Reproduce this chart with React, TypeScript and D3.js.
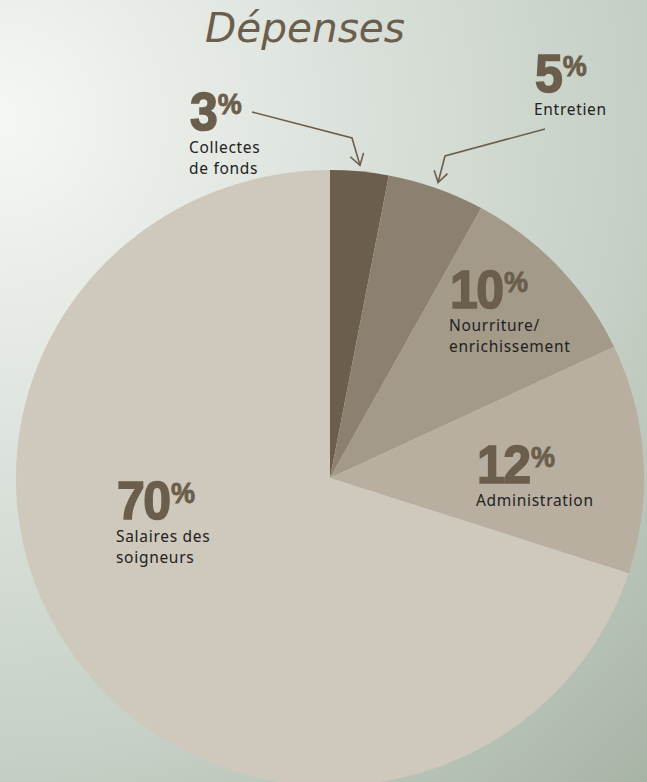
import React from "react";
import * as d3 from "d3";

const categories = ["Collectes de fonds", "Entretien", "Nourriture/ enrichissement", "Administration", "Salaires des soigneurs"];
const percents = [3, 5, 10, 12, 70];
const sliceColors = ["#6b5e4c", "#8c8170", "#a39a8a", "#b8afa1", "#cfc8bc"];
const labelLines = [["Collectes", "de fonds"], ["Entretien"], ["Nourriture/", "enrichissement"], ["Administration"], ["Salaires des", "soigneurs"]];
// label anchor (left x, baseline of the number)
const labelPos: [number, number][] = [[190, 130], [535, 92], [450, 308], [477, 483], [117, 519]];
// arrow callouts: [slice index, start point, elbow point]
const arrows: { idx: number; start: [number, number]; elbow: [number, number] }[] = [
  { idx: 0, start: [252, 112], elbow: [352, 138] },
  { idx: 1, start: [545, 129], elbow: [445, 156] },
];

const W = 647;
const H = 782;
const CX = 330;
const CY = 478;
const RX = 314;
const RY = 308;
const BROWN = "#6b5e4c";

export default function App() {
  const pie = d3.pie<number>().value((d) => d).sort(null)(percents);
  const arc = d3.arc<d3.PieArcDatum<number>>().innerRadius(0).outerRadius(RX);

  const arrowEls = arrows.map((a, i) => {
    const p = pie[a.idx];
    const mid = (p.startAngle + p.endAngle) / 2;
    const tip: [number, number] = [CX + (RX + 5) * Math.sin(mid), CY - (RY + 6) * Math.cos(mid)];
    const dx = tip[0] - a.elbow[0];
    const dy = tip[1] - a.elbow[1];
    const ang = Math.atan2(dy, dx);
    const L = 13;
    const spread = (32 * Math.PI) / 180;
    const h1: [number, number] = [tip[0] - L * Math.cos(ang - spread), tip[1] - L * Math.sin(ang - spread)];
    const h2: [number, number] = [tip[0] - L * Math.cos(ang + spread), tip[1] - L * Math.sin(ang + spread)];
    const line = d3.line();
    return (
      <g key={i} fill="none" stroke={BROWN} strokeWidth={1.6} strokeLinejoin="miter">
        <path d={line([a.start, a.elbow, tip]) || ""} />
        <path d={line([h1, tip, h2]) || ""} />
      </g>
    );
  });

  return (
    <svg width={W} height={H} style={{ position: "absolute", left: 0, top: 0, display: "block" }}>
      <defs>
        <radialGradient id="bg" cx={0} cy={120} r={930} gradientUnits="userSpaceOnUse">
          <stop offset="0" stopColor="#f5f7f4" />
          <stop offset="0.68" stopColor="#c6d0c6" />
          <stop offset="1" stopColor="#a7b3a5" />
        </radialGradient>
      </defs>
      <rect x={0} y={0} width={W} height={H} fill="url(#bg)" />
      <text x={205} y={42} fill={BROWN} fontFamily="'DejaVu Sans', sans-serif" fontStyle="italic" fontSize={40} textLength={200} lengthAdjust="spacingAndGlyphs">
        Dépenses
      </text>
      <g transform={`translate(${CX},${CY}) scale(1,${RY / RX})`}>
        {pie.map((p, i) => (
          <path key={categories[i]} d={arc(p) || ""} fill={sliceColors[i]} />
        ))}
      </g>
      {arrowEls}
      {percents.map((v, i) => {
        const [x, y] = labelPos[i];
        return (
          <g key={i}>
            <g transform={`translate(${x},${y}) scale(1,1.07)`}>
              <text x={0} y={0} fill={BROWN} stroke={BROWN} strokeWidth={1.5} fontFamily="'Liberation Sans', sans-serif" fontWeight="bold" fontSize={50} letterSpacing={-1.5}>
                <tspan>{v}</tspan>
                <tspan fontSize={27} strokeWidth={0.8} dy={-15} dx={1.5}>%</tspan>
              </text>
            </g>
            {labelLines[i].map((t, j) => (
              <text key={j} x={x - 1} y={y + 23 + j * 21} fill="#222" fontFamily="'Noto Sans', sans-serif" fontSize={15.5} letterSpacing={0.7}>
                {t}
              </text>
            ))}
          </g>
        );
      })}
    </svg>
  );
}
